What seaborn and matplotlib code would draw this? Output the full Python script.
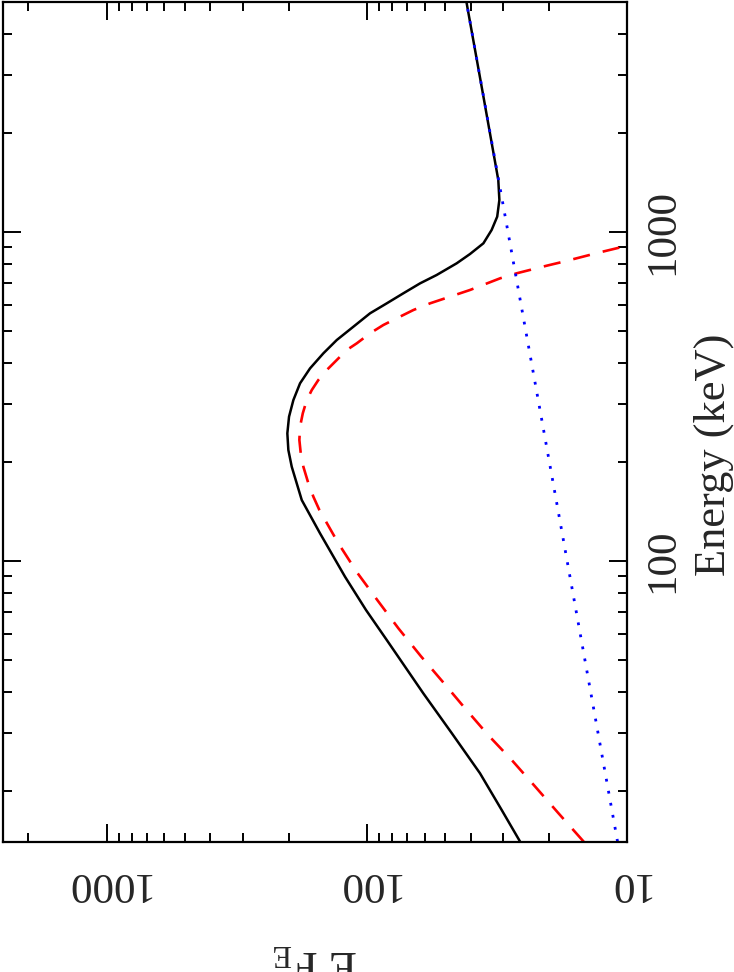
import pandas as pd
import matplotlib
matplotlib.use("Agg")
import matplotlib.pyplot as plt
import seaborn as sns
from matplotlib.ticker import FixedLocator, FixedFormatter, NullFormatter

# ---- values (Energy in keV, E F_E) ----
total_energy = [14.0, 17.5, 22.6, 29.9, 39.5, 57.4, 70.8, 89.4, 121.1, 152.9,
                171.9, 193.1, 217.0, 243.9, 274.0, 307.8, 346.1, 384.3, 427.0,
                468.6, 514.2, 564.9, 605.8, 649.7, 696.7, 738.5, 801.7, 855.3,
                922, 1012, 1111, 1249, 1436, 2512, 5000]
total_flux = [25.8, 30.4, 36.8, 47.2, 60.7, 83.9, 100.8, 121.4, 151.4, 178.0,
              186.1, 194.5, 200.4, 202.2, 199.2, 191.7, 180.7, 165.4, 147.0,
              130.6, 112.8, 97.3, 83.9, 72.5, 62.5, 54.0, 45.2, 40.2,
              35.7, 33.2, 31.6, 31.0, 31.3, 35.5, 41.5]

band_energy = [14.0, 17.1, 20.6, 24.8, 29.5, 35.6, 42.9, 51.3, 62.3, 75.9, 91.9,
               113.0, 142.6, 156.5, 171.9, 193.1, 212.1, 232.8, 255.5, 280.5,
               307.8, 330.2, 354.2, 379.8, 407.4, 436.9, 457.9, 491.1, 520.5,
               545.7, 578.1, 605.8, 634.5, 665.0, 721.6, 747.4, 788.2, 810.6,
               863.5, 890.2, 943]
band_flux = [14.7, 18.4, 22.6, 27.8, 34.2, 42.0, 51.2, 62.1, 75.7, 91.2, 108.9,
             128.8, 152.3, 160.6, 167.9, 175.5, 179.6, 181.8, 180.7, 176.4,
             170.3, 162.9, 153.7, 142.7, 130.6, 119.6, 109.4, 97.3, 86.5,
             76.8, 66.3, 57.2, 48.0, 40.2, 30.8, 26.6, 20.4, 17.6,
             12.9, 11.0, 8.2]

pl_energy = [14.0, 151, 1355, 5000]
pl_flux = [10.9, 18.7, 30.8, 41.5]

flux_ticks = [10, 100, 1000]
flux_labels = ["10", "100", "1000"]
energy_ticks = [100, 1000]
energy_labels = ["100", "1000"]

sns.set_style("ticks")
plt.rcParams["font.family"] = ["Liberation Serif", "DejaVu Serif"]
plt.rcParams["mathtext.fontset"] = "custom"
plt.rcParams["mathtext.rm"] = "Liberation Serif"
plt.rcParams["mathtext.it"] = "Liberation Serif"

fig = plt.figure(figsize=(7.34, 9.72), dpi=100)
ax = fig.add_axes([3 / 734, 1 - 841.7 / 972, 624.3 / 734, 840 / 972])

total = pd.DataFrame({"flux": total_flux, "energy": total_energy})
band = pd.DataFrame({"flux": band_flux, "energy": band_energy})
pl = pd.DataFrame({"flux": pl_flux, "energy": pl_energy})

# total model, Band component, power law
sns.lineplot(data=total, x="flux", y="energy", sort=False, estimator=None,
             color="black", lw=1.8, ax=ax)
sns.lineplot(data=band, x="flux", y="energy", sort=False, estimator=None,
             color="#ff0000", lw=1.9, linestyle=(0, (6.5, 5.0)), ax=ax)
sns.lineplot(data=pl, x="flux", y="energy", sort=False, estimator=None,
             color="#0000ff", lw=2.0, linestyle=(0, (1, 3.4)), ax=ax)

ax.set_xscale("log")
ax.set_yscale("log")
ax.set_xlim(2500, 10)
ax.set_ylim(14, 5000)

ax.xaxis.set_major_locator(FixedLocator(flux_ticks))
ax.xaxis.set_major_formatter(FixedFormatter(flux_labels))
ax.xaxis.set_minor_formatter(NullFormatter())
ax.yaxis.set_major_locator(FixedLocator(energy_ticks))
ax.yaxis.set_major_formatter(FixedFormatter(energy_labels))
ax.yaxis.set_minor_formatter(NullFormatter())

ax.tick_params(which="both", direction="in", top=True, right=True, left=True,
               bottom=True, color="black", width=1.4)
ax.tick_params(which="major", length=13)
ax.tick_params(which="minor", length=6.8)
ax.tick_params(axis="x", labelrotation=180, labelsize=31, pad=16)
ax.tick_params(axis="y", labelleft=False, labelright=True, labelrotation=90,
               labelsize=31, pad=12)
for lab in ax.get_yticklabels():
    lab.set_va("center")

for sp in ax.spines.values():
    sp.set_linewidth(1.6)
    sp.set_color("black")

ax.set_xlabel("")
ax.set_ylabel("")

fig.text(714 / 734, 1 - 455 / 972, "Energy (keV)", rotation=90,
         ha="center", va="center", fontsize=32)
fig.text(315 / 734, 1 - 962 / 972, r"E F$_{\rm E}$", rotation=180,
         ha="center", va="center", fontsize=33)

fig.savefig("out.png", dpi=100)
